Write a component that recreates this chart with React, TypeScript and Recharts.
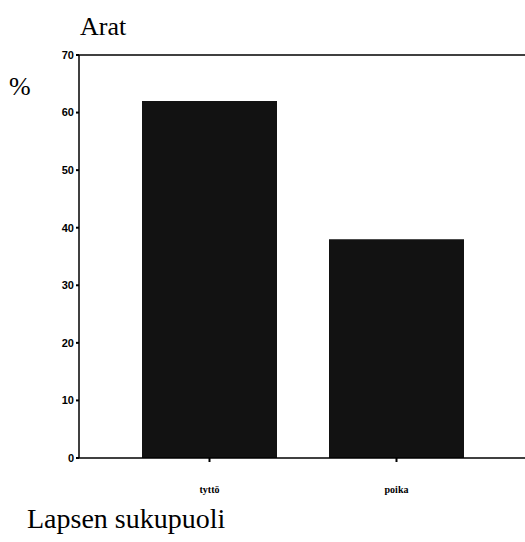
import React from "react";
import { BarChart, Bar, XAxis, YAxis, ReferenceLine } from "recharts";

const categories = ["tyttö", "poika"];
const values = [62, 38];
const yTicks = [0, 10, 20, 30, 40, 50, 60, 70];

const data = categories.map((name, i) => ({ name, value: values[i] }));

const serif = "Liberation Serif, DejaVu Serif, Times New Roman, serif";
const sans = "Liberation Sans, Arial, sans-serif";

export default function App() {
  return (
    <div style={{ position: "absolute", left: 0, top: 0, width: 525, height: 542, background: "#fff" }}>
      <div style={{ position: "absolute", left: 80, top: 12, fontFamily: serif, fontSize: 26, color: "#000", lineHeight: "30px" }}>
        Arat
      </div>
      <div style={{ position: "absolute", left: 9, top: 72, fontFamily: serif, fontSize: 26, color: "#000", lineHeight: "30px" }}>
        %
      </div>
      <div style={{ position: "absolute", left: 27, top: 504, fontFamily: serif, fontSize: 28, color: "#000", lineHeight: "30px" }}>
        Lapsen sukupuoli
      </div>
      <BarChart
        width={528}
        height={542}
        data={data}
        margin={{ top: 55, right: 0, left: 0, bottom: 50 }}
        barCategoryGap={26}
      >
        <XAxis
          dataKey="name"
          height={34}
          padding={{ left: 37, right: 38 }}
          axisLine={{ stroke: "#000", strokeWidth: 1.5 }}
          tickLine={{ stroke: "#000", strokeWidth: 2 }}
          tickSize={4}
          tickMargin={24}
          tick={{ fill: "#000", fontFamily: serif, fontSize: 10, fontWeight: 700 }}
        />
        <YAxis
          width={79}
          domain={[0, 70]}
          ticks={yTicks}
          axisLine={{ stroke: "#000", strokeWidth: 1.5 }}
          tickLine={{ stroke: "#000", strokeWidth: 2 }}
          tickSize={3}
          tickMargin={2}
          tick={{ fill: "#000", fontFamily: sans, fontSize: 11, fontWeight: 700 }}
        />
        <ReferenceLine y={70} stroke="#000" strokeWidth={1.5} />
        <Bar dataKey="value" fill="#121212" isAnimationActive={false} />
      </BarChart>
    </div>
  );
}
